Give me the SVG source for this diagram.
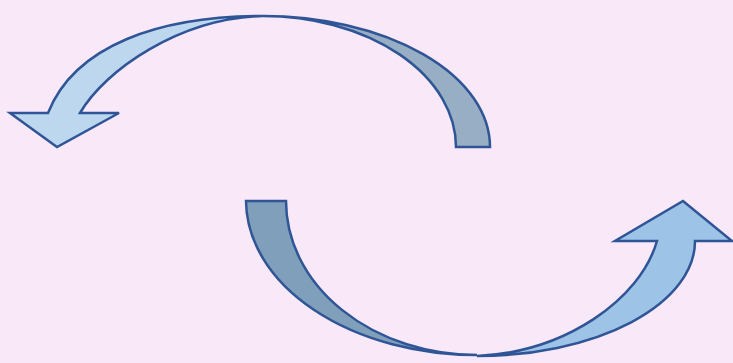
<svg xmlns="http://www.w3.org/2000/svg" width="733" height="363" viewBox="0 0 733 363">
<style>
.s{stroke:#2F5597;stroke-width:2.5;stroke-linejoin:miter}
.tl{fill:#BDD7EE}.td{fill:#98AEC4}.bl{fill:#9DC3E6}.bd{fill:#7F9FBA}
</style>
<rect width="733" height="363" fill="#F9E8F8"/>
<g id="top-arrow">
<path class="s td" d="M456,147 L490,147 A227,131 0 0 0 263,16 A193,131 0 0 1 456,147 Z"/>
<path class="s tl" d="M263,16 C160,16 75,45 48,113 L10,113 L57,147 L119,113 L80,113 C105,70 180,18 263,16 Z"/>
</g>
<g id="bottom-arrow">
<path class="s bd" d="M246,201 L286,201 A191,154 0 0 0 477,355 A231,155 0 0 1 246,201 Z"/>
<path class="s bl" d="M477,356 C565,352 640,300 657,241 L615,241 L683,201 L732,241 L695,241 A218,115 0 0 1 477,356 Z"/>
</g>
</svg>
